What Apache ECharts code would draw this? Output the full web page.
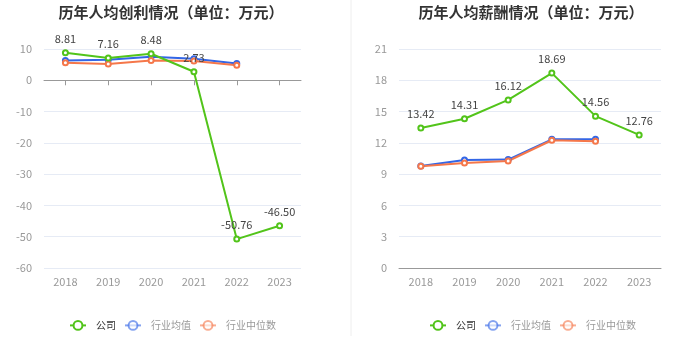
<!DOCTYPE html>
<html><head><meta charset="utf-8">
<script src="https://cdn.jsdelivr.net/npm/echarts@6/dist/echarts.min.js"></script>
<style>html,body{margin:0;padding:0;background:#fff}#c{width:700px;height:360px}</style>
</head><body><div id="c"></div>
<script>
const years = ['2018','2019','2020','2021','2022','2023'];
const profitCompany = [8.81, 7.16, 8.48, 2.73, -50.76, -46.50];
const profitAvg = [6.3, 6.6, 7.5, 6.9, 5.4, null];
const profitMedian = [5.6, 5.2, 6.3, 6.2, 4.8, null];
const salaryCompany = [13.42, 14.31, 16.12, 18.69, 14.56, 12.76];
const salaryAvg = [9.79, 10.35, 10.4, 12.34, 12.34, null];
const salaryMedian = [9.75, 10.07, 10.26, 12.25, 12.15, null];
const seriesNames = ['公司','行业均值','行业中位数'];
const leftTitle = '历年人均创利情况（单位：万元）';
const rightTitle = '历年人均薪酬情况（单位：万元）';

const GREEN = '#52c41a', BLUE = '#3366e6', ORANGE = '#f5774a';
const FONT = '"Noto Sans CJK SC", "Noto Sans", sans-serif';
const gridLine = '#e6ebf5';

function mkSeries(idx, data, name, color, showLabel) {
  return {
    type: 'line', name: name, xAxisIndex: idx, yAxisIndex: idx, data: data,
    symbol: 'emptyCircle', symbolSize: 5, z: showLabel ? 5 : 3,
    lineStyle: { color: color, width: 2 },
    itemStyle: { color: color, borderWidth: 1.5 },
    label: showLabel ? { show: true, position: 'top', color: '#444', fontSize: 11, fontFamily: FONT,
      formatter: p => p.value.toFixed(2) } : { show: false }
  };
}
function legendData() {
  return [
    { name: seriesNames[0], textStyle: { color: '#333' } },
    { name: seriesNames[1], textStyle: { color: '#999' }, itemStyle: { opacity: 0.6 }, lineStyle: { opacity: 0.6 } },
    { name: seriesNames[2], textStyle: { color: '#999' }, itemStyle: { opacity: 0.6 }, lineStyle: { opacity: 0.6 } }
  ];
}
function mkLegend(left) {
  return { data: legendData(), left: left, top: 315, itemWidth: 16, itemHeight: 11, itemGap: 8,
    textStyle: { fontSize: 10, fontFamily: FONT, padding: [0, 0, 0, 5] } };
}
const axisLabelStyle = { color: '#999', fontSize: 11, fontFamily: FONT };

const chart = echarts.init(document.getElementById('c'));
chart.setOption({
  animation: false,
  textStyle: { fontFamily: FONT },
  title: [
    { text: leftTitle, left: 166, textAlign: 'center', top: 0, textStyle: { fontSize: 15, fontWeight: 'bold', color: '#333', fontFamily: FONT } },
    { text: rightTitle, left: 526, textAlign: 'center', top: 0, textStyle: { fontSize: 15, fontWeight: 'bold', color: '#333', fontFamily: FONT } }
  ],
  legend: [ mkLegend(64), mkLegend(424) ],
  graphic: [{ type: 'line', shape: { x1: 351, y1: 0, x2: 351, y2: 336 }, style: { stroke: '#eeeeee', lineWidth: 1 } }],
  grid: [
    { left: 44, top: 49, width: 257, height: 219 },
    { left: 399, top: 49, width: 262, height: 219 }
  ],
  xAxis: [
    { gridIndex: 0, type: 'category', data: years, position: 'bottom', axisLine: { show: false, onZero: false }, axisTick: { show: false },
      axisLabel: { ...axisLabelStyle, margin: 8 } },
    { gridIndex: 1, type: 'category', data: years, axisLine: { lineStyle: { color: '#999' } },
      axisTick: { alignWithLabel: true, length: 5, lineStyle: { color: '#999' } }, axisLabel: { ...axisLabelStyle, margin: 8 } },
    { gridIndex: 0, type: 'category', data: years, position: 'bottom', axisLine: { show: true, onZero: true, lineStyle: { color: '#999' } },
      axisTick: { show: true, alignWithLabel: true, length: 5, lineStyle: { color: '#999' } }, axisLabel: { show: false } }
  ],
  yAxis: [
    { gridIndex: 0, type: 'value', min: -60, max: 10, interval: 10, axisLine: { show: false }, axisTick: { show: false },
      splitLine: { lineStyle: { color: gridLine } }, axisLabel: { ...axisLabelStyle, margin: 12 } },
    { gridIndex: 1, type: 'value', min: 0, max: 21, interval: 3, axisLine: { show: false }, axisTick: { show: false },
      splitLine: { lineStyle: { color: gridLine } }, axisLabel: { ...axisLabelStyle, margin: 12 } }
  ],
  series: [
    mkSeries(0, profitAvg, seriesNames[1], BLUE, false),
    mkSeries(0, profitMedian, seriesNames[2], ORANGE, false),
    mkSeries(0, profitCompany, seriesNames[0], GREEN, true),
    mkSeries(1, salaryAvg, seriesNames[1], BLUE, false),
    mkSeries(1, salaryMedian, seriesNames[2], ORANGE, false),
    mkSeries(1, salaryCompany, seriesNames[0], GREEN, true)
  ]
});
</script></body></html>
